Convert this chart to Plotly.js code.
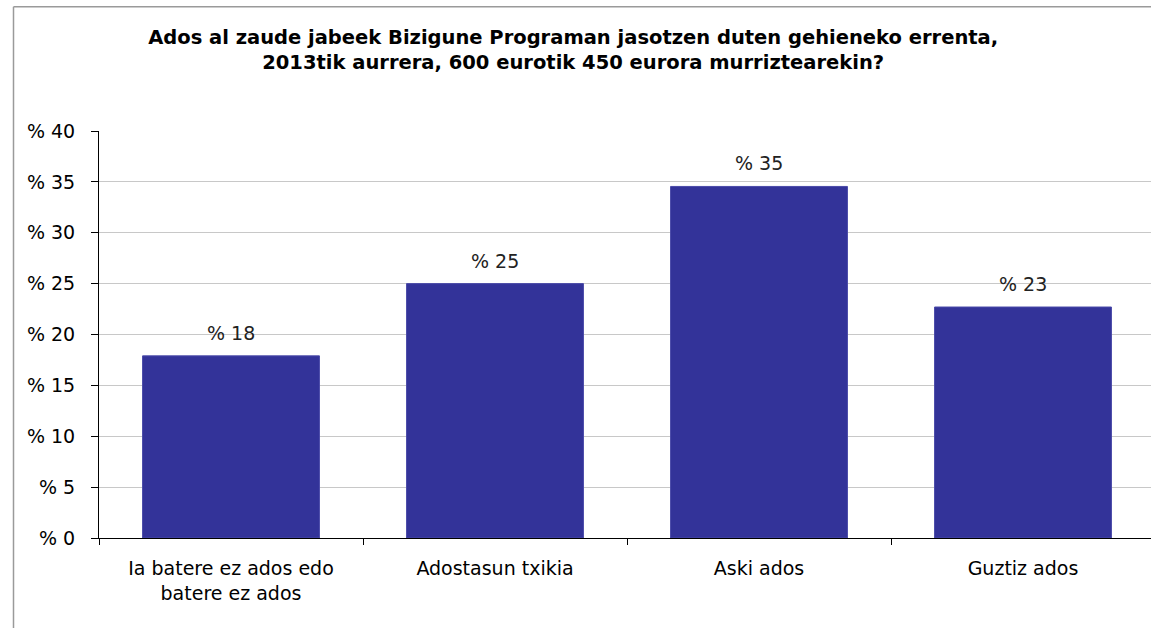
<!DOCTYPE html>
<html>
<head>
<meta charset="utf-8">
<script src="https://cdn.plot.ly/plotly-3.0.1.min.js"></script>
<style>
html,body{margin:0;padding:0;background:#fff;overflow:hidden;}
#chart{width:1151px;height:628px;}
</style>
</head>
<body>
<div id="chart"></div>
<script>
const categories = ["Ia batere ez ados edo<br>batere ez ados", "Adostasun txikia", "Aski ados", "Guztiz ados"];
const values = [17.9, 25.0, 34.55, 22.7];
const valueLabels = ["% 18", "% 25", "% 35", "% 23"];
const yTickVals = [0, 5, 10, 15, 20, 25, 30, 35, 40];
const yTickText = ["% 0", "% 5", "% 10", "% 15", "% 20", "% 25", "% 30", "% 35", "% 40"];
const titleText = "Ados al zaude jabeek Bizigune Programan jasotzen duten gehieneko errenta,<br>2013tik aurrera, 600 eurotik 450 eurora murriztearekin?";

const FONT = "DejaVu Sans, Verdana, sans-serif";

// plot area: left 99, right 1151 ; top 131, bottom 538.5
const L = 99, R = 1151, T = 131, B = 538.5, W = 1151, H = 628;
const pw = R - L, ph = B - T;
const px = x => (x - L) / pw;
const py = y => (B - y) / ph;

const trace = {
  type: "bar",
  x: categories,
  y: values,
  marker: {color: "#333399", line: {color: "#4a4aa8", width: 1}},
  hoverinfo: "skip"
};

const annotations = categories.map((c, i) => ({
  x: c, y: values[i], xref: "x", yref: "y",
  text: valueLabels[i], showarrow: false,
  yanchor: "bottom", yshift: 10,
  font: {family: FONT, size: 19, color: "#222"}
}));

const layout = {
  width: W, height: H,
  margin: {l: L, r: W - R, t: T, b: H - B, pad: 0},
  paper_bgcolor: "#fff",
  plot_bgcolor: "#fff",
  showlegend: false,
  bargap: 0.33,
  title: {
    text: titleText,
    font: {family: FONT, size: 19.5, color: "#000", weight: "bold"},
    xref: "container", x: 0.498, xanchor: "center",
    yref: "container", y: 1 - 44 / H, yanchor: "top"
  },
  xaxis: {
    type: "category",
    range: [-0.5, -0.5 + pw / 264],
    showline: true, linecolor: "#000", linewidth: 1,
    ticks: "outside", tickson: "boundaries", ticklen: 6, tickcolor: "#000",
    ticklabelstandoff: 13,
    showgrid: false, zeroline: false,
    tickfont: {family: FONT, size: 19, color: "#000"},
    fixedrange: true
  },
  yaxis: {
    range: [0, 40],
    tickvals: yTickVals, ticktext: yTickText,
    showline: true, linecolor: "#000", linewidth: 1,
    ticks: "outside", ticklen: 7, tickcolor: "#000",
    ticklabelstandoff: 12,
    showgrid: true, gridcolor: "#c8c8c8", gridwidth: 1,
    zeroline: false,
    tickfont: {family: FONT, size: 19, color: "#000"},
    fixedrange: true
  },
  annotations: annotations,
  shapes: [
    {type: "line", xref: "paper", yref: "paper", x0: px(13.5), x1: px(13.5), y0: py(6.5), y1: py(640), line: {color: "#9a9a9a", width: 1.5}},
    {type: "line", xref: "paper", yref: "paper", x0: px(13.5), x1: px(1160), y0: py(6.5), y1: py(6.5), line: {color: "#9a9a9a", width: 1.5}}
  ]
};

Plotly.newPlot("chart", [trace], layout, {displayModeBar: false, staticPlot: true});
</script>
</body>
</html>
